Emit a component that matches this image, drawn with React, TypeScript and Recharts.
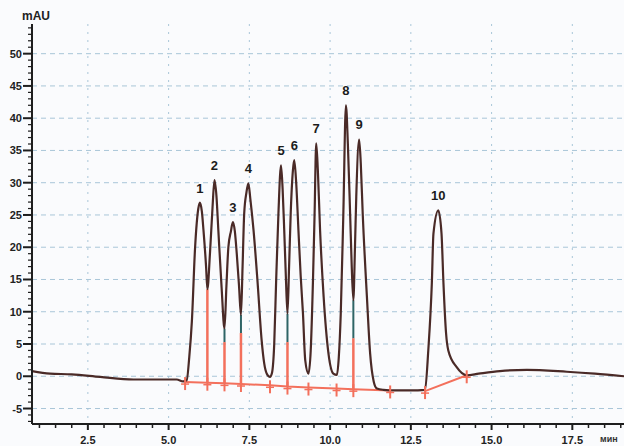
import { ComposedChart, Line, XAxis, YAxis, CartesianGrid, ReferenceLine } from 'recharts';

// detector trace, minutes / mAU
const times = [
  0.77, 1.33, 2.0, 2.88, 3.91, 5.25, 5.45, 5.56, 5.64, 5.72, 5.82, 5.92, 5.97, 6.03, 6.08, 6.16,
  6.2, 6.28, 6.36, 6.42, 6.48, 6.54, 6.64, 6.73, 6.79, 6.85, 6.93, 6.99, 7.05, 7.11, 7.18, 7.24,
  7.29, 7.34, 7.41, 7.47, 7.53, 7.63, 7.75, 7.88, 7.96, 8.04, 8.14, 8.2, 8.27, 8.33, 8.4, 8.48,
  8.53, 8.58, 8.63, 8.68, 8.73, 8.78, 8.85, 8.89, 8.95, 9.02, 9.09, 9.16, 9.23, 9.33, 9.4, 9.47,
  9.52, 9.57, 9.62, 9.69, 9.8, 9.95, 10.1, 10.21, 10.27, 10.33, 10.41, 10.49, 10.55, 10.62, 10.67,
  10.72, 10.77, 10.81, 10.9, 10.95, 11.01, 11.14, 11.24, 11.35, 11.45, 11.65, 12.0, 12.5, 12.94,
  13.04, 13.15, 13.2, 13.35, 13.45, 13.51, 13.59, 13.66, 13.92, 14.23, 14.6, 15.26, 16.09, 17.33,
  18.2, 19.1,
];
const signal = [
  0.8, 0.4, 0.3, -0.1, -0.5, -0.5, -0.8, -0.6, 3.0, 8.5, 20.0, 26.0, 26.9, 25.5, 22.6, 17.0,
  13.5, 19.0, 26.2, 30.4, 28.0, 22.6, 13.8, 7.4, 14.0, 20.0, 22.5, 23.9, 22.5, 19.0, 14.0, 9.5,
  17.0, 25.2, 28.5, 29.9, 27.5, 22.6, 14.9, 5.6, 2.0, 0.4, -0.1, 0.5, 5.0, 14.9, 25.2, 32.7,
  29.0, 22.6, 15.5, 9.7, 17.0, 25.2, 32.0, 33.5, 30.0, 22.6, 15.5, 9.7, 2.5, 0.4, 4.0, 14.9,
  25.2, 36.1, 32.0, 22.6, 12.3, 3.5, 0.4, 0.2, 3.0, 9.7, 25.2, 42.0, 36.0, 25.2, 17.0,
  11.8, 20.0, 27.8, 36.7, 33.0, 25.2, 12.3, 3.5, -0.8, -1.9, -2.1, -2.2, -2.2, -2.1,
  4.0, 14.4, 22.1, 25.7, 22.1, 14.4, 6.7, 4.0, 1.4, 0.15, 0.4, 0.8, 1.0, 0.7,
  0.4, 0.0,
];

const peakLabels = ['1', '2', '3', '4', '5', '6', '7', '8', '9', '10'];
const peakTimes = [5.97, 6.42, 6.99, 7.47, 8.48, 8.89, 9.57, 10.49, 10.9, 13.35];
const peakHeights = [26.9, 30.4, 23.9, 29.9, 32.7, 33.5, 36.1, 42.0, 36.7, 25.7];

// integration baseline and cut marks
const cutTimes = [5.51, 6.2, 6.73, 7.24, 8.14, 8.68, 9.33, 10.2, 10.72, 11.86];
const cutBase = [-0.9, -1.0, -1.1, -1.2, -1.4, -1.6, -1.75, -1.9, -2.0, -2.2];
const tailTimes = [12.94, 14.23];
const tailBase = [-2.3, 0.15];

// drop lines: red part up to dropMid, dark teal part up to the trace
const dropTimes = [6.2, 6.73, 7.24, 8.68, 10.72];
const dropBases = [-1.0, -1.1, -1.2, -1.6, -2.0];
const dropMids = [13.5, 5.3, 6.7, 5.3, 5.9];
const dropTops = [13.5, 7.4, 9.5, 9.7, 11.8];

const xTicks = [
  1, 1.5, 2, 2.5, 3, 3.5, 4, 4.5, 5, 5.5, 6, 6.5, 7, 7.5, 8, 8.5, 9, 9.5, 10, 10.5, 11, 11.5,
  12, 12.5, 13, 13.5, 14, 14.5, 15, 15.5, 16, 16.5, 17, 17.5, 18, 18.5, 19,
];
const yTicks = [
  -7, -6, -5, -4, -3, -2, -1, 0, 1, 2, 3, 4, 5, 6, 7, 8, 9, 10, 11, 12, 13, 14, 15, 16, 17, 18,
  19, 20, 21, 22, 23, 24, 25, 26, 27, 28, 29, 30, 31, 32, 33, 34, 35, 36, 37, 38, 39, 40, 41, 42,
  43, 44, 45, 46, 47, 48, 49, 50, 51, 52, 53, 54,
];
const xGrid = [2.5, 5, 7.5, 10, 12.5, 15, 17.5];
const yGrid = [-5, 0, 5, 10, 15, 20, 25, 30, 35, 40, 45, 50];

const trace = times.map((t, i) => ({ t, v: signal[i] }));
const peaks = peakTimes.map((t, i) => ({ t, v: peakHeights[i], label: peakLabels[i] }));
const cuts = cutTimes.map((t, i) => ({ t, v: cutBase[i] }));
const tail = tailTimes.map((t, i) => ({ t, v: tailBase[i] }));

const RED = '#f3705c';
const TEAL = '#2e6466';
const INK = '#4a2a27';
const AXIS = '#1e1e1e';
const FONT = '"Liberation Sans", Arial, sans-serif';

const XTick = ({ x, y, payload }: any) => {
  const v = payload.value as number;
  const major = Math.abs(v / 2.5 - Math.round(v / 2.5)) < 1e-6;
  return (
    <g>
      <line x1={x} x2={x} y1={y} y2={y + (major ? 6 : 4)} stroke={AXIS} strokeWidth={major ? 2 : 1.5} />
      {major && (
        <text x={x} y={y + 20} textAnchor="middle" fontSize={11} fontWeight="bold" fill="#222" fontFamily={FONT}>
          {v.toFixed(1)}
        </text>
      )}
    </g>
  );
};

const YTick = ({ x, y, payload }: any) => {
  const v = payload.value as number;
  const major = v % 5 === 0;
  return (
    <g>
      <line x1={x - (major ? 9 : 4)} x2={x} y1={y} y2={y} stroke={AXIS} strokeWidth={major ? 2 : 1.2} />
      {major && (
        <text x={x - 10} y={y + 4} textAnchor="end" fontSize={11} fontWeight="bold" fill="#222" fontFamily={FONT}>
          {v}
        </text>
      )}
    </g>
  );
};

const CutMark = (props: any) => {
  const { cx, cy, index } = props;
  if (cx == null || cy == null) return <g key={index} />;
  return (
    <g key={index}>
      <line x1={cx} x2={cx} y1={cy - 5} y2={cy + 8} stroke={RED} strokeWidth={2} />
      <line x1={cx - 4} x2={cx + 4} y1={cy + 2} y2={cy + 2} stroke={RED} strokeWidth={1.5} />
    </g>
  );
};

const PeakLabel = (props: any) => {
  const { cx, cy, index, payload } = props;
  if (cx == null || cy == null) return <g key={index} />;
  return (
    <text key={index} x={cx} y={cy - 10} textAnchor="middle" fontSize={13} fontWeight="bold" fill="#1c1c1c" fontFamily={FONT}>
      {payload.label}
    </text>
  );
};

export default function App() {
  return (
    <div style={{ position: 'relative', width: 624, height: 446, background: '#fafbfd', fontFamily: FONT }}>
      <style>{`body{margin:0;}`}</style>
      <ComposedChart width={624} height={446} margin={{ top: 24, right: 0, bottom: 0, left: 0 }}>
        <CartesianGrid horizontal vertical={false} horizontalValues={yGrid} stroke="#a9c6d8" strokeDasharray="5 4" />
        <CartesianGrid horizontal={false} vertical verticalValues={xGrid} stroke="#a9c6d8" strokeDasharray="2 6" />
        <XAxis
          dataKey="t"
          type="number"
          domain={[0.77, 19.1]}
          allowDataOverflow
          ticks={xTicks}
          interval={0}
          height={22}
          tickSize={0}
          tickMargin={0}
          tickLine={false}
          tick={<XTick />}
          axisLine={{ stroke: AXIS, strokeWidth: 2 }}
        />
        <XAxis
          xAxisId="top"
          orientation="top"
          dataKey="t"
          type="number"
          domain={[0.77, 19.1]}
          allowDataOverflow
          height={0}
          tick={false}
          tickLine={false}
          axisLine={{ stroke: '#3a2826', strokeWidth: 2 }}
        />
        <YAxis
          type="number"
          domain={[-7.4, 54.6]}
          allowDataOverflow
          ticks={yTicks}
          interval={0}
          width={32}
          tickSize={0}
          tickMargin={0}
          tickLine={false}
          tick={<YTick />}
          axisLine={{ stroke: AXIS, strokeWidth: 2 }}
        />
        {dropTimes.map((t, i) => (
          <ReferenceLine
            key={`d${i}`}
            segment={[
              { x: t, y: dropBases[i] },
              { x: t, y: dropMids[i] },
            ]}
            stroke={RED}
            strokeWidth={2.5}
          />
        ))}
        {dropTimes.map((t, i) => (
          <ReferenceLine
            key={`g${i}`}
            segment={[
              { x: t, y: dropMids[i] },
              { x: t, y: dropTops[i] },
            ]}
            stroke={TEAL}
            strokeWidth={2}
          />
        ))}
        <Line data={cuts} dataKey="v" type="linear" stroke={RED} strokeWidth={2} dot={false} isAnimationActive={false} />
        <Line data={tail} dataKey="v" type="linear" stroke={RED} strokeWidth={2} dot={false} isAnimationActive={false} />
        <Line data={trace} dataKey="v" type="monotone" stroke={INK} strokeWidth={2.2} dot={false} isAnimationActive={false} />
        <Line data={cuts} dataKey="v" stroke="none" dot={<CutMark />} isAnimationActive={false} />
        <Line data={tail} dataKey="v" stroke="none" dot={<CutMark />} isAnimationActive={false} />
        <Line data={peaks} dataKey="v" stroke="none" dot={<PeakLabel />} isAnimationActive={false} />
      </ComposedChart>
      <div style={{ position: 'absolute', left: 22, top: 9, fontSize: 12, fontWeight: 'bold', color: '#222' }}>mAU</div>
      <div style={{ position: 'absolute', left: 600, top: 434, fontSize: 9, fontWeight: 'bold', color: '#333' }}>мин</div>
    </div>
  );
}
